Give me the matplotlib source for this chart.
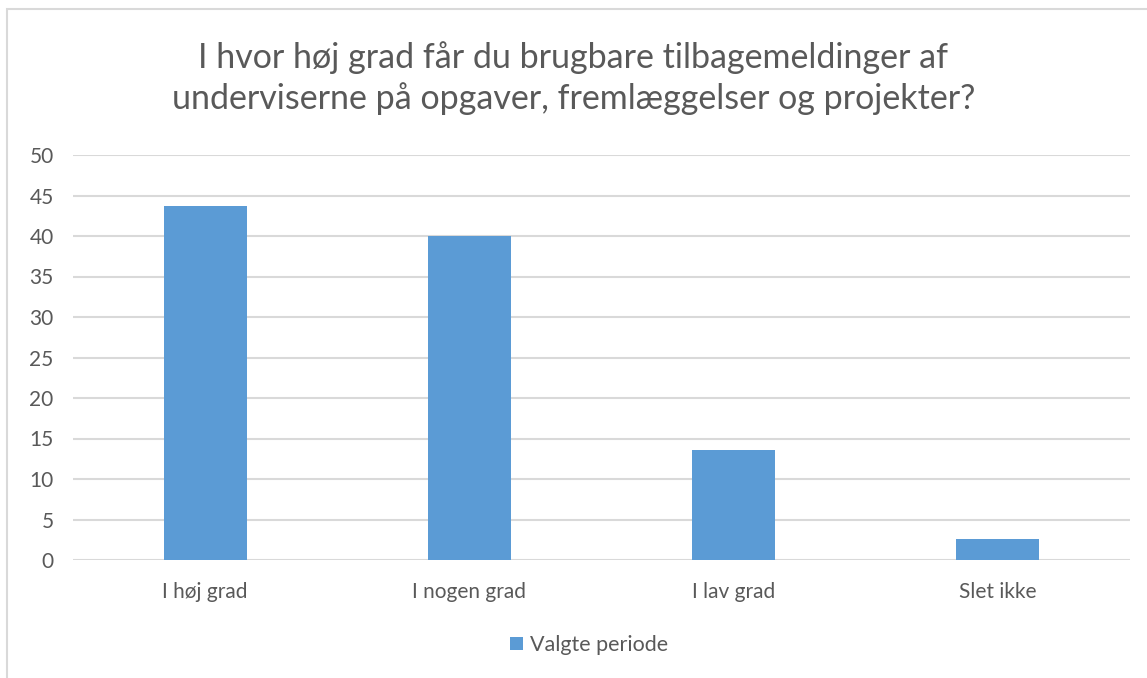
import matplotlib.pyplot as plt
from matplotlib.patches import Rectangle

categories = ["I høj grad", "I nogen grad", "I lav grad", "Slet ikke"]
values = [43.7, 40.0, 13.6, 2.6]
series_name = "Valgte periode"
title = "I hvor høj grad får du brugbare tilbagemeldinger af\nunderviserne på opgaver, fremlæggelser og projekter?"

plt.rcParams['font.family'] = ['Lato', 'DejaVu Sans']
text_col = '#595959'
bar_col = '#5b9bd5'
grid_col = '#d9d9d9'

fig = plt.figure(figsize=(11.47, 6.78), dpi=100)

# chart frame
fig.patches.append(Rectangle((7 / 1147, -0.1), 1.2, 1 - 9 / 678 + 0.1,
                             transform=fig.transFigure, fill=False,
                             edgecolor='#d9d9d9', lw=1.5))

ax = fig.add_axes([73 / 1147, 1 - 560 / 678, (1130 - 73) / 1147, (560 - 155) / 678])
x = range(len(categories))
ax.bar(x, values, width=0.315, color=bar_col, label=series_name, zorder=3)

ax.set_xlim(-0.5, len(categories) - 0.5)
ax.set_ylim(0, 50)
ax.set_yticks(range(0, 51, 5))
ax.set_xticks(list(x))
ax.set_xticklabels(categories)
ax.yaxis.grid(True, color=grid_col, lw=1.5, zorder=0)
ax.tick_params(axis='both', length=0, colors=text_col, labelsize=15)
ax.tick_params(axis='y', pad=14)
ax.tick_params(axis='x', pad=16)
for s in ax.spines.values():
    s.set_visible(False)

fig.text(0.5, 1 - 78 / 678, title, ha='center', va='center', fontsize=24.5,
         color=text_col, linespacing=1.3)

fig.legend(loc='center', bbox_to_anchor=(589 / 1147, 1 - 645 / 678), frameon=False,
           fontsize=15.5, labelcolor=text_col, handlelength=0.6, handleheight=0.6,
           handletextpad=0.3)

fig.savefig('out.png', dpi=100)
